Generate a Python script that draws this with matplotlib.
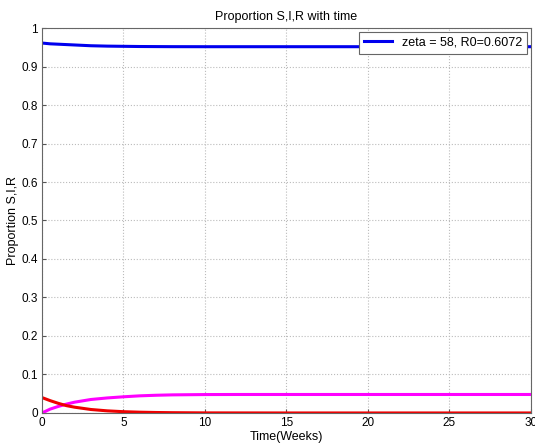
import matplotlib
matplotlib.use("Agg")
import matplotlib.pyplot as plt

t = [0, 0.5, 1, 1.5, 2, 3, 4, 5, 6, 7, 8, 10, 12, 15, 20, 25, 30]
S = [0.961, 0.959, 0.958, 0.957, 0.956, 0.954, 0.953, 0.9525, 0.952, 0.9518, 0.9516, 0.9515, 0.9515, 0.9515, 0.9515, 0.9515, 0.9515]
I = [0.040, 0.032, 0.025, 0.019, 0.015, 0.009, 0.0055, 0.0033, 0.002, 0.0012, 0.0007, 0.0002, 0.0001, 0.0, 0.0, 0.0, 0.0]
R = [0.0, 0.010, 0.017, 0.023, 0.028, 0.035, 0.039, 0.042, 0.0445, 0.046, 0.047, 0.0478, 0.048, 0.048, 0.048, 0.048, 0.048]
legend_label = "zeta = 58, R0=0.6072"
xticks = [0, 5, 10, 15, 20, 25, 30]
yticks = [0, 0.1, 0.2, 0.3, 0.4, 0.5, 0.6, 0.7, 0.8, 0.9, 1]
yticklabels = ["0", "0.1", "0.2", "0.3", "0.4", "0.5", "0.6", "0.7", "0.8", "0.9", "1"]

plt.rcParams['font.family'] = ['Liberation Sans', 'DejaVu Sans']
fig = plt.figure(figsize=(5.35, 4.45), dpi=100)
ax = fig.add_axes([0.0785, 0.072, 0.914, 0.865])
ax.plot(t, S, color='#0000ee', lw=2.2, label=legend_label)
ax.plot(t, R, color='#ff00ff', lw=2.2)
ax.plot(t, I, color='#ee0000', lw=2.2)
ax.set_xlim(0, 30)
ax.set_ylim(0, 1)
ax.set_xticks(xticks)
ax.set_yticks(yticks)
ax.set_yticklabels(yticklabels)
ax.grid(True, linestyle=':', color='#bbbbbb', lw=0.8)
ax.tick_params(direction='in', labelsize=8.5, length=3, color='#555555', pad=3)
for s in ax.spines.values():
    s.set_color('#666666')
ax.set_title("Proportion S,I,R with time", fontsize=9, pad=6)
ax.set_xlabel("Time(Weeks)", fontsize=9, labelpad=1)
ax.set_ylabel("Proportion S,I,R", fontsize=9)
ax.yaxis.set_label_coords(-0.047, 0.5)
leg = ax.legend(loc='upper right', fontsize=9, fancybox=False, framealpha=1,
                edgecolor='#666666', borderaxespad=0.3, handlelength=2.2)
leg.get_frame().set_linewidth(0.8)
fig.savefig("out.png", dpi=100)
